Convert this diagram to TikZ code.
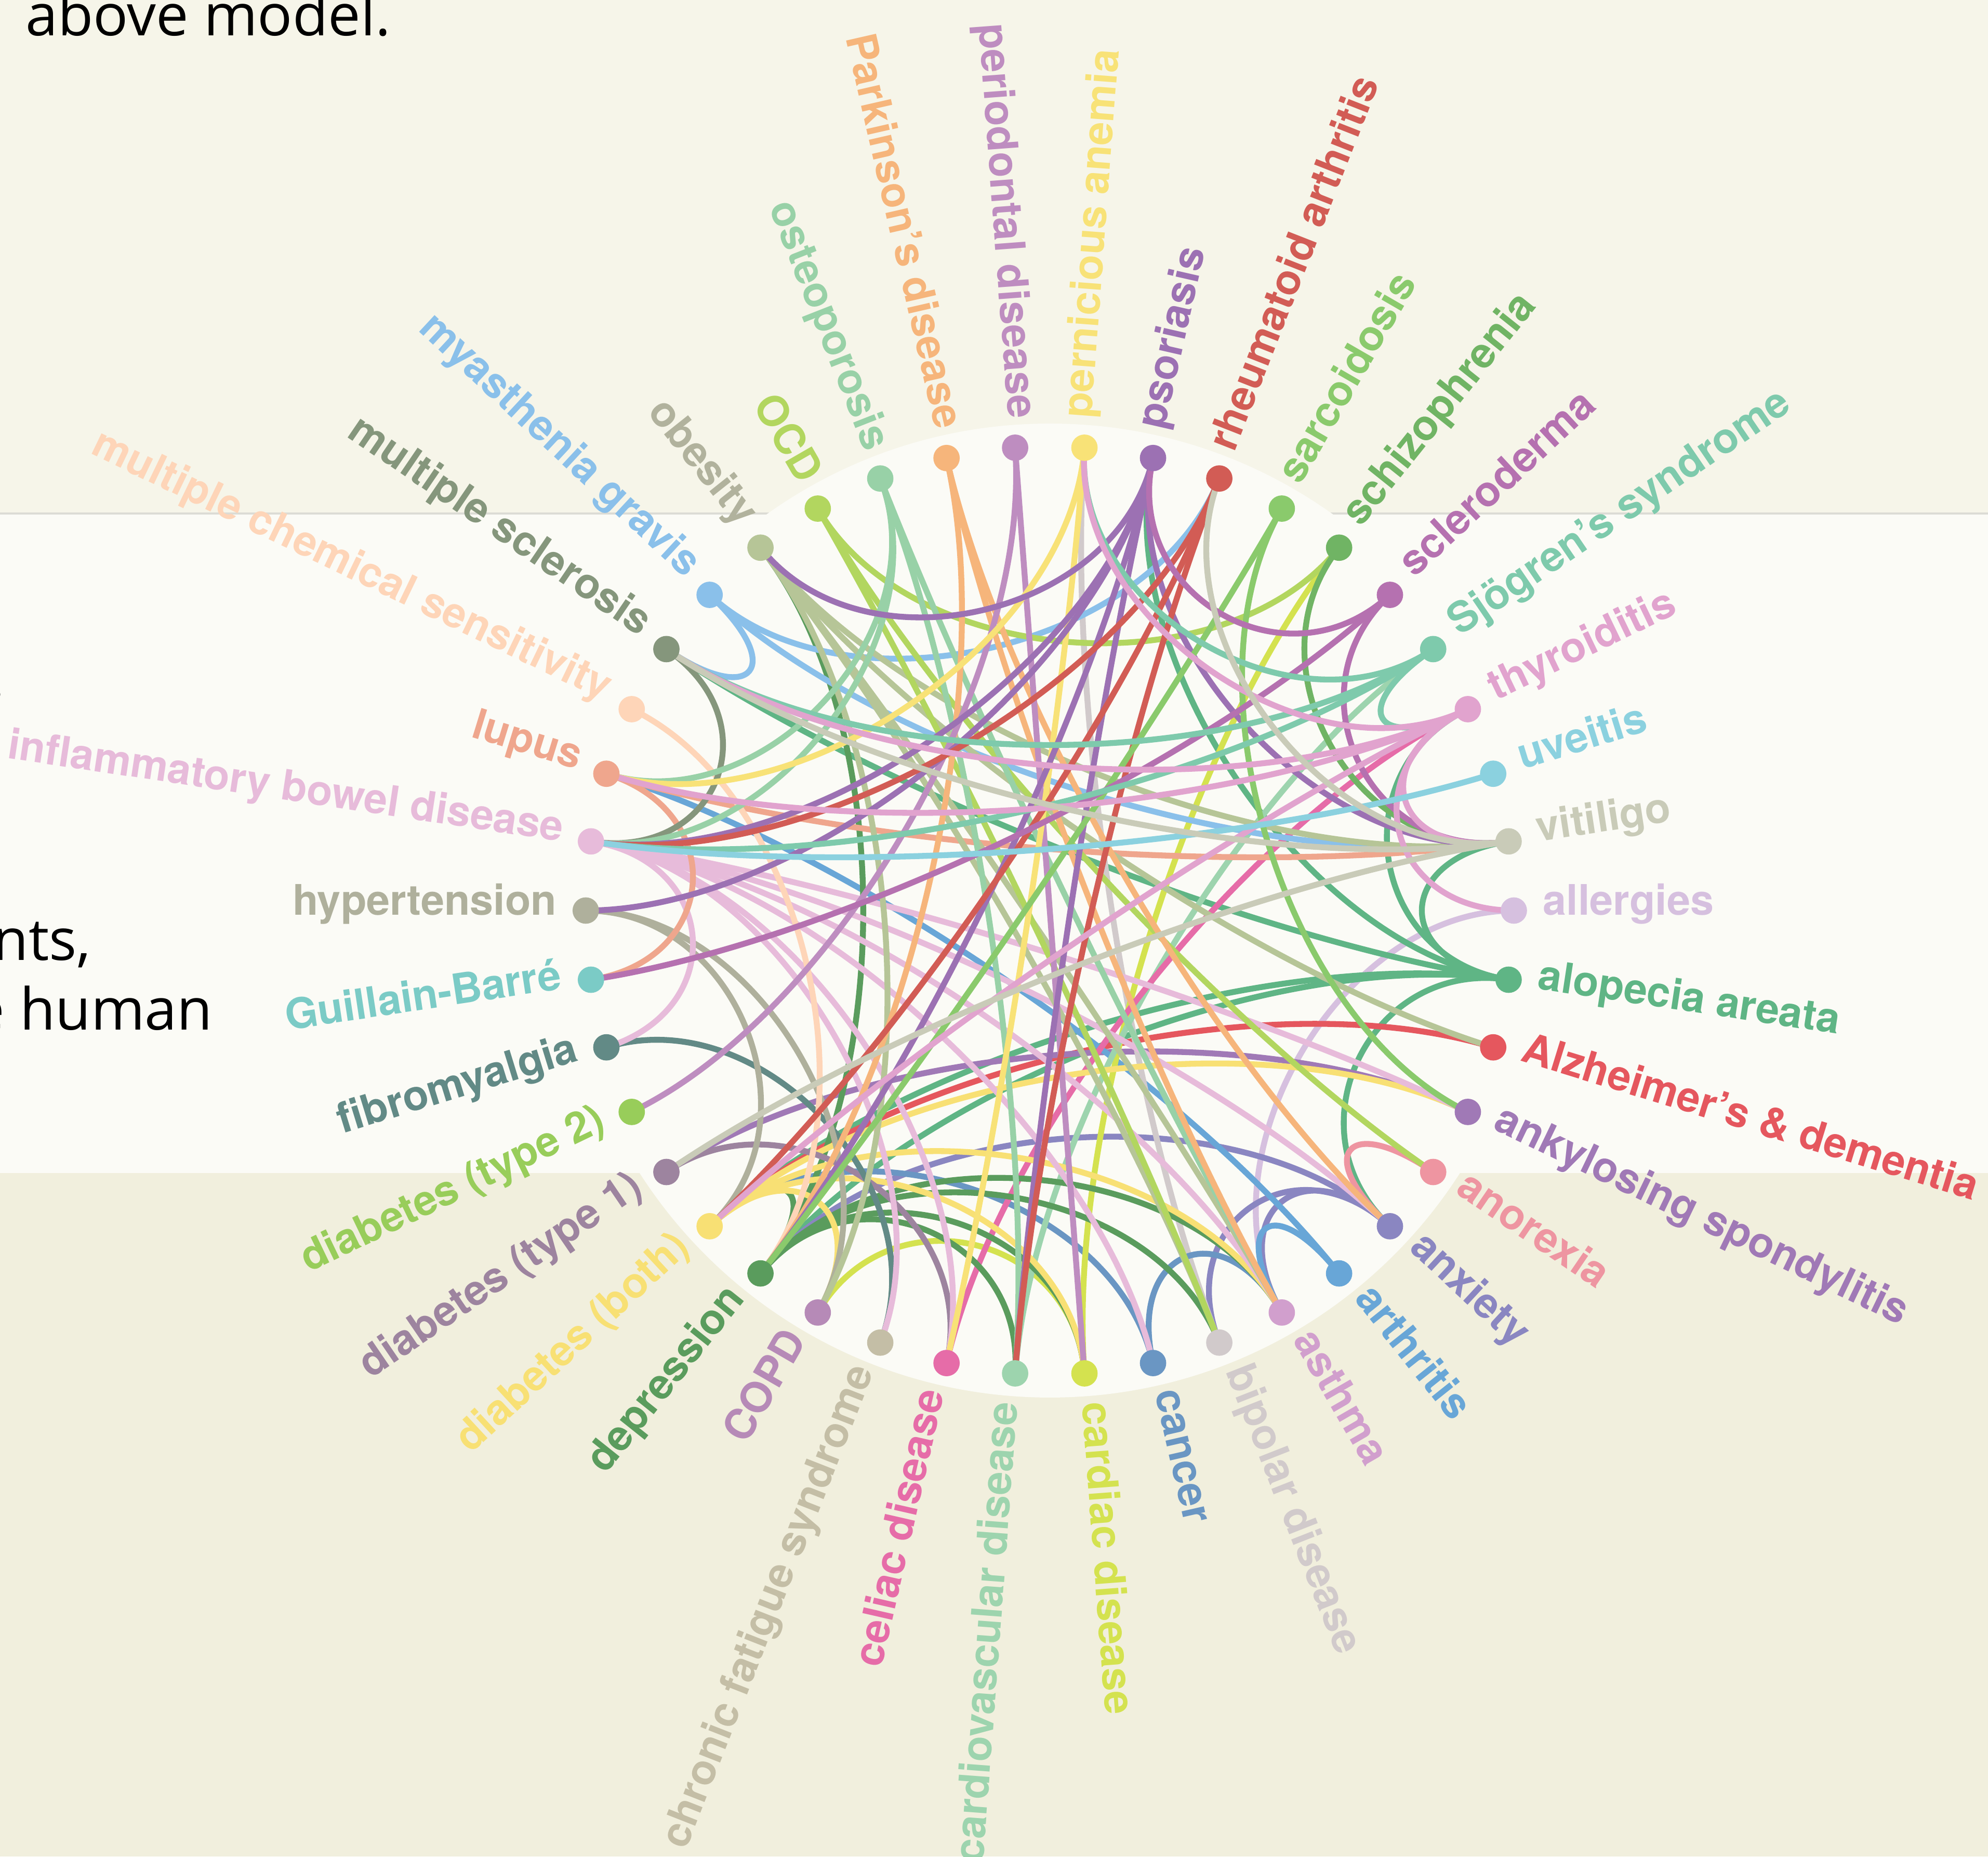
\documentclass[tikz,border=0pt]{standalone}
\usepackage{fontspec}
\setmainfont{TeX Gyre Heros}
\newfontfamily\notefont{Open Sans}
\usetikzlibrary{calc}

% disease colours (same names as the nodes)
\definecolor{allergies}{HTML}{D6C0DF}
\definecolor{alopecia}{HTML}{5FB585}
\definecolor{alzheimers}{HTML}{E5575E}
\definecolor{ankylosing}{HTML}{A079B6}
\definecolor{anorexia}{HTML}{EE95A1}
\definecolor{anxiety}{HTML}{8A86C1}
\definecolor{arthritis}{HTML}{68A6D7}
\definecolor{asthma}{HTML}{D19FCD}
\definecolor{bipolar}{HTML}{D1CACB}
\definecolor{cancer}{HTML}{6A96C3}
\definecolor{cardiac}{HTML}{D4E24F}
\definecolor{cardiovascular}{HTML}{9DD4AE}
\definecolor{celiac}{HTML}{E66CA8}
\definecolor{cfs}{HTML}{C4BEA6}
\definecolor{copd}{HTML}{B68AB7}
\definecolor{depression}{HTML}{5A9C5D}
\definecolor{diabboth}{HTML}{F8E074}
\definecolor{diabone}{HTML}{9D849F}
\definecolor{diabtwo}{HTML}{98CD5A}
\definecolor{fibro}{HTML}{628A86}
\definecolor{guillain}{HTML}{7BCBC6}
\definecolor{hypertension}{HTML}{AFB09C}
\definecolor{ibd}{HTML}{E7BBDA}
\definecolor{lupus}{HTML}{EFA68D}
\definecolor{mcs}{HTML}{FED5B8}
\definecolor{ms}{HTML}{85967C}
\definecolor{mg}{HTML}{8AC0EA}
\definecolor{obesity}{HTML}{B6C597}
\definecolor{obesitytext}{HTML}{B1B29D}
\definecolor{ocd}{HTML}{B2D65F}
\definecolor{osteo}{HTML}{98D1A7}
\definecolor{parkinsons}{HTML}{F6B57B}
\definecolor{periodontal}{HTML}{BE8DC0}
\definecolor{pernicious}{HTML}{F8E277}
\definecolor{psoriasis}{HTML}{9C71B3}
\definecolor{rheumatoid}{HTML}{D25C55}
\definecolor{sarcoidosis}{HTML}{8ACA6C}
\definecolor{schizo}{HTML}{70B464}
\definecolor{scleroderma}{HTML}{B571B0}
\definecolor{sjogren}{HTML}{7ECAAC}
\definecolor{thyroiditis}{HTML}{E1A3CE}
\definecolor{uveitis}{HTML}{8BD1DF}
\definecolor{vitiligo}{HTML}{C9CBB8}
% page colours
\definecolor{topband}{HTML}{F6F5E9}
\definecolor{midband}{HTML}{FBFBF6}
\definecolor{lowband}{HTML}{F1EFDD}
\definecolor{bandline}{HTML}{DCDCD5}

\pgfdeclarelayer{backdrop}
\pgfdeclarelayer{links}
\pgfsetlayers{backdrop,links,main}

\tikzset{
  dot/.style={circle,inner sep=0pt,minimum size=0.52cm},
  link/.style={line width=3.3pt,line cap=round},
  disease/.style={font=\fontsize{23.6}{24}\selectfont\bfseries,inner sep=0pt},
  prose/.style={font=\notefont\fontsize{32.5}{33}\selectfont,inner sep=0pt,text=black}
}

\begin{document}
\begin{tikzpicture}
    \def\R{9.15cm}
    \useasboundingbox (-20.7,-18.65) rectangle (18.5,17.95);
    \coordinate (centre) at (0,0);

    % Page bands and the disc behind the chart
    \begin{pgfonlayer}{backdrop}
        \fill[topband] (-20.7,7.825) rectangle (18.5,17.95);
        \fill[midband] (-20.7,-5.175) rectangle (18.5,7.825);
        \fill[lowband] (-20.7,-18.65) rectangle (18.5,-5.175);
        \draw[bandline,line width=1pt] (-20.7,7.825) -- (18.5,7.825);
        \fill[midband] (centre) circle (9.6cm);
    \end{pgfonlayer}

    % Text of the page around the chart
    \node[prose,anchor=base west] (model) at (-20.2,17.25) {above model.};
    \node[prose,anchor=base east] (stop) at (-20.6,4.2) {.};
    \node[prose,anchor=base east] (patients) at (-18.9,-0.98) {nts,};
    \node[prose,anchor=base east] (human) at (-16.5,-2.35) {e human};

    % Dots and radial labels
    \foreach \i/\name/\ink/\txt in {
        0/allergies/allergies/allergies,
        1/alopecia/alopecia/alopecia areata,
        2/alzheimers/alzheimers/Alzheimer’s \& dementia,
        3/ankylosing/ankylosing/ankylosing spondylitis,
        4/anorexia/anorexia/anorexia,
        5/anxiety/anxiety/anxiety,
        6/arthritis/arthritis/arthritis,
        7/asthma/asthma/asthma,
        8/bipolar/bipolar/bipolar disease,
        9/cancer/cancer/cancer,
        10/cardiac/cardiac/cardiac disease,
        11/cardiovascular/cardiovascular/cardiovascular disease,
        12/celiac/celiac/celiac disease,
        13/cfs/cfs/chronic fatigue syndrome,
        14/copd/copd/COPD,
        15/depression/depression/depression,
        16/diabboth/diabboth/diabetes (both),
        17/diabone/diabone/diabetes (type 1),
        18/diabtwo/diabtwo/diabetes (type 2),
        19/fibro/fibro/fibromyalgia,
        20/guillain/guillain/Guillain-Barré,
        21/hypertension/hypertension/hypertension,
        22/ibd/ibd/inflammatory bowel disease,
        23/lupus/lupus/lupus,
        24/mcs/mcs/multiple chemical sensitivity,
        25/ms/ms/multiple sclerosis,
        26/mg/mg/myasthenia gravis,
        27/obesity/obesitytext/obesity,
        28/ocd/ocd/OCD,
        29/osteo/osteo/osteoporosis,
        30/parkinsons/parkinsons/Parkinson’s disease,
        31/periodontal/periodontal/periodontal disease,
        32/pernicious/pernicious/pernicious anemia,
        33/psoriasis/psoriasis/psoriasis,
        34/rheumatoid/rheumatoid/rheumatoid arthritis,
        35/sarcoidosis/sarcoidosis/sarcoidosis,
        36/schizo/schizo/schizophrenia,
        37/scleroderma/scleroderma/scleroderma,
        38/sjogren/sjogren/Sjögren’s syndrome,
        39/thyroiditis/thyroiditis/thyroiditis,
        40/uveitis/uveitis/uveitis,
        41/vitiligo/vitiligo/vitiligo}
    {
        \pgfmathsetmacro\ang{-360/42*\i}
        \pgfmathsetmacro\flip{\ang+180}
        \node[dot,fill=\name] (\name) at (\ang:\R) {};
        \ifnum\i>10 \ifnum\i<32
            \node[disease,text=\ink,anchor=mid east,rotate=\flip] (\name-txt) at (\ang:9.72) {\txt};
        \else
            \node[disease,text=\ink,anchor=mid west,rotate=\ang] (\name-txt) at (\ang:9.72) {\txt};
        \fi \else
            \node[disease,text=\ink,anchor=mid west,rotate=\ang] (\name-txt) at (\ang:9.72) {\txt};
        \fi
    }

    % Links, coloured by the first disease of each pair
    \begin{pgfonlayer}{links}
    \foreach \a/\b in {
        allergies/asthma,
        alopecia/thyroiditis, alopecia/psoriasis, alopecia/vitiligo, alopecia/anxiety,
        alopecia/ms, alopecia/depression, alopecia/diabboth,
        alzheimers/diabboth, ankylosing/diabone, anorexia/anxiety,
        anxiety/asthma, anxiety/bipolar, anxiety/depression,
        arthritis/lupus, arthritis/asthma, bipolar/pernicious,
        cancer/diabboth, cancer/asthma, cardiac/copd, cardiac/schizo,
        cardiovascular/sjogren, celiac/thyroiditis,
        depression/cardiovascular, depression/cardiac, depression/bipolar,
        depression/asthma, depression/obesity, depression/diabboth,
        diabboth/ankylosing, diabboth/asthma, diabboth/copd, diabboth/cardiac,
        diabone/celiac, fibro/cfs, hypertension/copd, hypertension/diabboth,
        ibd/fibro, ibd/ankylosing, ibd/anxiety, ibd/asthma, ibd/cancer, ibd/celiac, ibd/cfs,
        lupus/guillain, lupus/vitiligo, mcs/depression, ms/ibd,
        mg/ms, mg/rheumatoid, mg/vitiligo,
        obesity/copd, obesity/alzheimers, obesity/vitiligo, obesity/asthma, obesity/bipolar,
        ocd/schizo, ocd/anorexia, ocd/bipolar,
        osteo/lupus, osteo/ibd, osteo/cardiovascular, osteo/asthma,
        parkinsons/depression, parkinsons/anxiety, parkinsons/asthma,
        periodontal/diabtwo, periodontal/cardiac, pernicious/lupus, pernicious/celiac,
        psoriasis/obesity, psoriasis/depression, psoriasis/ibd, psoriasis/hypertension,
        psoriasis/cardiovascular, psoriasis/vitiligo,
        rheumatoid/diabboth, rheumatoid/cardiovascular, rheumatoid/ibd,
        sarcoidosis/depression, sarcoidosis/ankylosing, schizo/vitiligo,
        scleroderma/psoriasis, scleroderma/guillain, scleroderma/vitiligo,
        sjogren/pernicious, sjogren/thyroiditis, sjogren/ibd, sjogren/ms,
        thyroiditis/pernicious, thyroiditis/ms, thyroiditis/vitiligo, thyroiditis/allergies,
        thyroiditis/lupus, thyroiditis/diabboth, uveitis/ibd,
        vitiligo/diabone, vitiligo/ms, vitiligo/rheumatoid}
    {
        \draw[link,draw=\a] let \p1=(\a.center), \p2=(\b.center),
            \n1={0.2*\R+0.175*veclen(\x2-\x1,\y2-\y1)} in
            (\a.center) .. controls ($(\a.center)!\n1!(centre)$) and ($(\b.center)!\n1!(centre)$) .. (\b.center);
    }
    \end{pgfonlayer}
\end{tikzpicture}
\end{document}
